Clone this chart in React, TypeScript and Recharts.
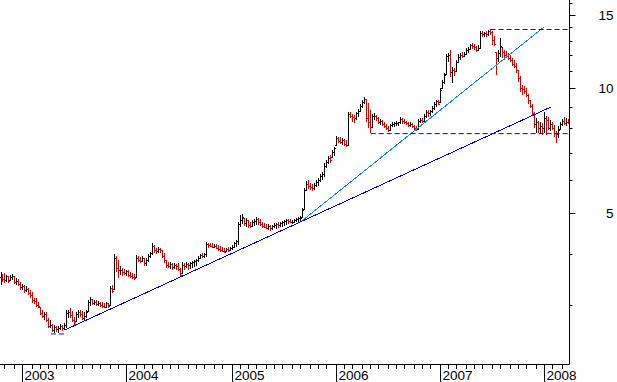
import { Bar, ComposedChart, ReferenceLine, XAxis, YAxis } from 'recharts';

// weekly bars (price)
const highs = [
  3.61, 3.57, 3.59, 3.55, 3.53, 3.55, 3.57, 3.53, 3.49, 3.47,
  3.41, 3.38, 3.36, 3.34, 3.30, 3.27, 3.23, 3.13, 3.13, 3.06,
  2.98, 2.93, 2.90, 2.90, 2.80, 2.77, 2.71, 2.69, 2.68, 2.68,
  2.71, 2.69, 2.72, 2.93, 2.93, 2.95, 2.91, 2.82, 2.90, 2.93,
  2.93, 2.91, 2.90, 2.93, 3.09, 3.14, 3.11, 3.09, 3.09, 3.07,
  3.06, 3.06, 3.04, 3.06, 3.04, 3.34, 3.36, 3.98, 3.94, 3.86,
  3.73, 3.69, 3.67, 3.65, 3.65, 3.61, 3.59, 3.57, 3.96, 3.94,
  3.92, 3.94, 3.90, 3.90, 3.98, 4.03, 4.24, 4.19, 4.12, 4.14,
  4.12, 4.07, 4.01, 3.86, 3.81, 3.81, 3.79, 3.79, 3.77, 3.79,
  3.69, 3.81, 3.79, 3.81, 3.79, 3.81, 3.84, 3.86, 3.88, 3.94,
  3.98, 4.01, 4.01, 4.26, 4.24, 4.24, 4.24, 4.21, 4.21, 4.19,
  4.17, 4.14, 4.12, 4.12, 4.14, 4.14, 4.19, 4.26, 4.31, 4.76,
  4.95, 4.97, 4.86, 4.86, 4.81, 4.76, 4.81, 4.84, 4.89, 4.86,
  4.84, 4.76, 4.73, 4.71, 4.71, 4.68, 4.68, 4.73, 4.73, 4.76,
  4.76, 4.78, 4.81, 4.84, 4.84, 4.84, 4.81, 4.84, 4.86, 4.89,
  4.92, 5.14, 5.74, 5.97, 6.00, 5.90, 5.87, 5.90, 6.00, 6.07,
  6.20, 6.27, 6.60, 6.71, 6.86, 6.89, 7.09, 7.21, 7.66, 7.62,
  7.62, 7.58, 7.54, 7.49, 8.75, 8.75, 8.66, 8.61, 8.75, 8.90,
  9.15, 9.36, 9.52, 9.41, 9.20, 8.85, 8.66, 8.70, 8.61, 8.51,
  8.42, 8.37, 8.28, 8.19, 8.10, 8.19, 8.28, 8.28, 8.33, 8.28,
  8.51, 8.47, 8.42, 8.33, 8.28, 8.28, 8.23, 8.14, 8.10, 8.42,
  8.47, 8.47, 8.66, 8.85, 8.85, 8.85, 9.05, 9.26, 9.36, 9.36,
  10.00, 10.45, 10.87, 12.08, 12.15, 12.35, 11.24, 11.17, 11.68, 12.08,
  12.15, 12.21, 12.21, 12.49, 12.56, 12.77, 12.84, 12.77, 12.63, 12.70,
  13.72, 13.72, 13.65, 13.72, 13.80, 13.87, 13.72, 13.35, 12.21, 12.35,
  13.20, 12.56, 12.35, 12.28, 12.15, 12.01, 11.81, 11.68, 11.49, 11.05,
  10.69, 10.17, 10.11, 10.00, 9.67, 9.36, 9.15, 8.75, 8.47, 8.33,
  8.28, 8.23, 8.75, 8.56, 8.51, 8.37, 8.28, 8.14, 7.88, 8.10,
  8.28, 8.42, 8.51, 8.47, 8.42,
];

const lows = [
  3.36, 3.41, 3.40, 3.41, 3.40, 3.43, 3.45, 3.38, 3.36, 3.34,
  3.27, 3.27, 3.22, 3.23, 3.18, 3.13, 3.04, 3.03, 2.98, 2.96,
  2.85, 2.80, 2.77, 2.74, 2.65, 2.65, 2.59, 2.58, 2.59, 2.58,
  2.62, 2.61, 2.62, 2.65, 2.80, 2.80, 2.74, 2.69, 2.74, 2.80,
  2.82, 2.77, 2.77, 2.80, 2.90, 2.99, 3.01, 3.01, 2.99, 2.99,
  2.98, 2.96, 2.95, 2.96, 2.95, 2.99, 3.22, 3.27, 3.61, 3.49,
  3.55, 3.53, 3.55, 3.53, 3.51, 3.49, 3.47, 3.45, 3.49, 3.81,
  3.79, 3.81, 3.73, 3.73, 3.81, 3.90, 3.96, 4.01, 3.98, 4.01,
  4.01, 3.90, 3.79, 3.69, 3.69, 3.67, 3.65, 3.67, 3.65, 3.63,
  3.51, 3.57, 3.65, 3.69, 3.65, 3.67, 3.69, 3.71, 3.73, 3.81,
  3.88, 3.90, 3.90, 3.92, 4.12, 4.14, 4.12, 4.12, 4.10, 4.05,
  4.03, 4.03, 4.01, 4.03, 4.03, 4.05, 4.07, 4.12, 4.14, 4.19,
  4.63, 4.71, 4.65, 4.63, 4.60, 4.60, 4.63, 4.65, 4.68, 4.68,
  4.65, 4.60, 4.60, 4.58, 4.55, 4.53, 4.55, 4.60, 4.58, 4.60,
  4.63, 4.63, 4.65, 4.68, 4.71, 4.73, 4.71, 4.73, 4.76, 4.76,
  4.78, 4.86, 5.08, 5.65, 5.71, 5.68, 5.65, 5.68, 5.77, 5.81,
  5.93, 6.00, 6.10, 6.42, 6.56, 6.60, 6.78, 6.86, 7.25, 7.37,
  7.33, 7.29, 7.25, 7.21, 7.25, 8.47, 8.28, 8.23, 8.37, 8.51,
  8.75, 8.95, 9.15, 8.28, 8.01, 7.79, 8.01, 8.37, 8.33, 8.19,
  8.14, 8.10, 8.01, 7.92, 7.84, 7.88, 8.05, 8.05, 8.10, 8.10,
  8.19, 8.19, 8.19, 8.14, 8.05, 8.05, 8.01, 7.92, 7.88, 7.92,
  8.23, 8.23, 8.28, 8.47, 8.51, 8.56, 8.70, 8.85, 9.00, 9.10,
  9.20, 9.94, 10.22, 10.75, 11.55, 10.63, 10.28, 10.69, 10.93, 11.49,
  11.68, 11.81, 11.88, 12.01, 12.15, 12.35, 12.42, 12.35, 12.21, 12.28,
  12.42, 13.27, 13.27, 13.27, 13.35, 13.42, 12.70, 12.63, 10.75, 11.55,
  11.88, 11.81, 11.68, 11.81, 11.68, 11.55, 11.30, 11.17, 10.87, 10.34,
  9.78, 9.62, 9.67, 9.52, 9.15, 8.95, 8.56, 8.01, 7.79, 7.79,
  7.75, 7.70, 7.79, 7.70, 7.92, 7.88, 7.92, 7.62, 7.37, 7.58,
  7.92, 8.10, 8.14, 8.10, 8.19,
];

const closes = [
  3.51, 3.47, 3.45, 3.53, 3.43, 3.51, 3.53, 3.41, 3.43, 3.38,
  3.32, 3.34, 3.27, 3.29, 3.22, 3.18, 3.09, 3.07, 3.01, 2.99,
  2.88, 2.83, 2.86, 2.77, 2.68, 2.69, 2.62, 2.66, 2.63, 2.65,
  2.68, 2.65, 2.69, 2.88, 2.90, 2.85, 2.77, 2.74, 2.86, 2.90,
  2.86, 2.80, 2.83, 2.90, 3.06, 3.11, 3.04, 3.06, 3.03, 3.04,
  3.01, 2.99, 2.98, 3.04, 2.99, 3.30, 3.25, 3.90, 3.69, 3.65,
  3.65, 3.61, 3.59, 3.63, 3.55, 3.53, 3.51, 3.49, 3.90, 3.86,
  3.84, 3.90, 3.79, 3.86, 3.94, 4.01, 4.17, 4.07, 4.05, 4.10,
  4.07, 3.94, 3.86, 3.75, 3.73, 3.77, 3.71, 3.75, 3.73, 3.67,
  3.55, 3.75, 3.73, 3.77, 3.75, 3.79, 3.81, 3.84, 3.86, 3.90,
  3.96, 3.94, 3.98, 4.21, 4.19, 4.17, 4.14, 4.17, 4.12, 4.10,
  4.07, 4.05, 4.03, 4.10, 4.07, 4.12, 4.14, 4.24, 4.29, 4.71,
  4.81, 4.89, 4.73, 4.81, 4.68, 4.65, 4.76, 4.78, 4.84, 4.76,
  4.71, 4.65, 4.63, 4.60, 4.65, 4.60, 4.65, 4.68, 4.71, 4.68,
  4.73, 4.76, 4.78, 4.81, 4.78, 4.76, 4.76, 4.81, 4.84, 4.86,
  4.86, 5.08, 5.68, 5.87, 5.81, 5.77, 5.74, 5.84, 5.93, 6.00,
  6.14, 6.20, 6.49, 6.63, 6.78, 6.71, 7.01, 7.17, 7.58, 7.45,
  7.41, 7.49, 7.33, 7.29, 8.66, 8.56, 8.51, 8.47, 8.70, 8.80,
  9.05, 9.26, 9.41, 8.47, 8.28, 8.05, 8.56, 8.56, 8.47, 8.28,
  8.33, 8.19, 8.10, 8.01, 7.92, 8.14, 8.19, 8.23, 8.23, 8.28,
  8.42, 8.33, 8.28, 8.23, 8.14, 8.19, 8.10, 8.01, 7.97, 8.33,
  8.37, 8.33, 8.56, 8.75, 8.70, 8.80, 8.95, 9.15, 9.31, 9.15,
  9.89, 10.34, 10.75, 11.94, 12.01, 10.93, 11.05, 10.99, 11.55, 11.88,
  12.01, 11.94, 12.08, 12.35, 12.42, 12.70, 12.63, 12.56, 12.35, 12.49,
  13.57, 13.50, 13.57, 13.50, 13.72, 13.65, 13.05, 12.77, 11.81, 12.15,
  12.63, 12.21, 12.01, 11.94, 11.81, 11.68, 11.42, 11.30, 11.05, 10.57,
  10.00, 9.94, 9.83, 9.62, 9.36, 9.05, 8.70, 8.19, 8.28, 8.01,
  8.10, 8.01, 8.47, 8.37, 8.01, 8.19, 8.01, 7.79, 7.75, 7.92,
  8.19, 8.33, 8.23, 8.28, 8.23,
];

// first bar is the week ending Fri 11 Oct 2002
const firstWeek = Date.UTC(2002, 9, 11);
const yTicks = [3, 4, 5, 6, 7, 8, 9, 10, 11, 12, 13, 14, 15, 16];
const yLabels = [5, 10, 15];

// levels of the drawn support / resistance lines
const peakLevel = 13.84;
const supportLevel = 7.774;
const lowLevel = 2.562;

const data = closes.map((c, i) => ({
  i,
  range: [lows[i], highs[i]],
  open: i > 0 ? closes[i - 1] : c,
  close: c,
  date: new Date(firstWeek + i * 7 * 86400000),
}));

const monthTicks = data
  .filter((d, k) => k > 0 && d.date.getUTCMonth() !== data[k - 1].date.getUTCMonth())
  .map(d => d.i);

const PLOT_W = 569.5;
const band = PLOT_W / data.length;

const OhlcBar = (props: any) => {
  const { x, y, width, height, payload } = props;
  if (x == null || y == null) return null;
  const lo = payload.range[0];
  const hi = payload.range[1];
  const top = Math.min(y, y + height);
  const bottom = Math.max(y, y + height);
  const span = Math.log(hi) - Math.log(lo);
  const py = (v: number) => {
    const c = Math.min(hi, Math.max(lo, v));
    return span > 0 ? top + (bottom - top) * (Math.log(hi) - Math.log(c)) / span : top;
  };
  const cx = Math.floor(x + width / 2);
  const color = payload.close < payload.open ? '#e00000' : '#000000';
  const t = Math.round(top);
  const h = Math.max(1, Math.round(bottom) - t);
  return (
    <g fill={color}>
      <rect x={cx} y={t} width={1} height={h} />
      <rect x={cx - 1} y={Math.min(Math.round(py(payload.open)), t + h - 1)} width={1} height={1} />
      <rect x={cx + 1} y={Math.min(Math.round(py(payload.close)), t + h - 1)} width={1} height={1} />
    </g>
  );
};

const XTick = (props: any) => {
  const { x, y, payload } = props;
  const d = data[payload.value].date;
  const lx = Math.floor(x - band / 2) - 0.5;
  const yy = Math.round(y);
  if (d.getUTCMonth() === 0) {
    return (
      <g>
        <line x1={lx} x2={lx} y1={yy} y2={yy + 18} stroke="#000" />
        <text x={lx + 2} y={yy + 15} fill="#000" fontSize={13.5}
          fontFamily='"Liberation Sans Narrow", "Arial Narrow", "Liberation Sans", sans-serif'>
          {d.getUTCFullYear()}
        </text>
      </g>
    );
  }
  return <line x1={lx} x2={lx} y1={yy} y2={yy + 4} stroke="#000" />;
};

const YTick = (props: any) => {
  const { x, y, payload } = props;
  const major = yLabels.includes(payload.value);
  const yy = Math.round(y) + 0.5;
  return (
    <g>
      <line x1={x} x2={x + (major ? 6 : 3)} y1={yy} y2={yy} stroke="#000" />
      {major && (
        <text x={x + 44} y={y} dy="0.36em" textAnchor="end" fill="#000" fontSize={13.5}
          fontFamily='"Liberation Sans", Arial, sans-serif'>
          {payload.value}
        </text>
      )}
    </g>
  );
};

const lineBlue = '#0000e0';
const dashBlue = '#0000ff';
const lineCyan = '#0a94d2';

export default function App() {
  return (
    <div style={{ width: 617, height: 382, background: '#fff' }}>
      <style>{'body{margin:0}'}</style>
      <ComposedChart width={617} height={382} data={data}
        margin={{ top: 0, right: 0, bottom: 0, left: 0 }}
        barCategoryGap={0} barGap={0}>
        <XAxis dataKey="i" type="category" ticks={monthTicks} interval={0}
          tick={(p: any) => <XTick {...p} />} tickLine={false} tickSize={0} tickMargin={0}
          axisLine={{ stroke: '#000' }} height={17.5} />
        <YAxis orientation="right" scale="log" domain={[2.163, 16.3]} allowDataOverflow
          ticks={yTicks} interval={0} tick={(p: any) => <YTick {...p} />}
          tickLine={false} tickSize={0} tickMargin={0} width={47.5}
          axisLine={{ stroke: '#000' }} />
        <Bar dataKey="range" shape={(p: any) => <OhlcBar {...p} />} isAnimationActive={false} />
        <ReferenceLine segment={[{ x: 32, y: 2.62 }, { x: 275, y: 9.0 }]} stroke={lineBlue}
          shapeRendering="crispEdges" />
        <ReferenceLine segment={[{ x: 151, y: 4.81 }, { x: 272, y: 14.07 }]} stroke={lineCyan}
          shapeRendering="crispEdges" />
        <ReferenceLine segment={[{ x: 245, y: peakLevel }, { x: 284, y: peakLevel }]} stroke={dashBlue}
          strokeDasharray="5 3" />
        <ReferenceLine segment={[{ x: 185, y: supportLevel }, { x: 284, y: supportLevel }]} stroke={dashBlue}
          strokeDasharray="5 3" />
        <ReferenceLine segment={[{ x: 25, y: lowLevel }, { x: 32, y: lowLevel }]} stroke={dashBlue}
          strokeDasharray="5 3" />
      </ComposedChart>
    </div>
  );
}
